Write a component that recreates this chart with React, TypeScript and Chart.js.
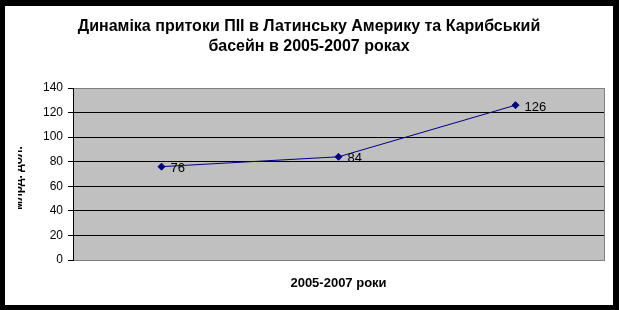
import React, { useEffect, useRef } from "react";
import { Chart, registerables } from "chart.js";

Chart.register(...registerables);

const categories = ["2005", "2006", "2007"];
const values = [76, 84, 126];
const titleLines = [
  "Динаміка притоки ПІІ в Латинську Америку та Карибський",
  "басейн в 2005-2007 роках",
];
const xTitle = "2005-2007 роки";
const yTitle = "млрд. дол.";
const yMin = 0;
const yMax = 140;
const yStep = 20;

const FONT = '"Liberation Sans", Arial, sans-serif';

const decor = {
  id: "decor",
  beforeDraw(chart: any) {
    const { ctx, chartArea: a } = chart;
    ctx.save();
    ctx.fillStyle = "#C0C0C0";
    ctx.fillRect(a.left, a.top, a.right - a.left, a.bottom - a.top);
    ctx.restore();
  },
  beforeDatasetsDraw(chart: any) {
    const { ctx, chartArea: a } = chart;
    ctx.save();
    ctx.strokeStyle = "#808080";
    ctx.lineWidth = 1;
    ctx.beginPath();
    ctx.moveTo(Math.round(a.right) + 0.5, Math.round(a.top));
    ctx.lineTo(Math.round(a.right) + 0.5, Math.round(a.bottom) + 1);
    ctx.stroke();
    ctx.restore();
  },
  afterDatasetsDraw(chart: any) {
    const { ctx } = chart;
    const meta = chart.getDatasetMeta(0);
    ctx.save();
    ctx.fillStyle = "#000000";
    ctx.font = `13px ${FONT}`;
    ctx.textAlign = "left";
    ctx.textBaseline = "middle";
    meta.data.forEach((pt: any, i: number) => {
      ctx.fillText(String(values[i]), pt.x + 9, pt.y + 2);
    });
    ctx.restore();
  },
  afterDraw(chart: any) {
    const { ctx, chartArea: a, width } = chart;
    ctx.save();
    ctx.fillStyle = "#000000";
    ctx.textAlign = "center";
    ctx.textBaseline = "middle";
    ctx.font = `bold 16px ${FONT}`;
    titleLines.forEach((line, i) => {
      ctx.fillText(line, width / 2, 21 + i * 20);
    });
    ctx.font = `bold 13px ${FONT}`;
    ctx.fillText(xTitle, (a.left + a.right) / 2, 277);
    ctx.restore();

    ctx.save();
    ctx.beginPath();
    ctx.rect(13, 0, 40, chart.height);
    ctx.clip();
    ctx.translate(17, (a.top + a.bottom) / 2 + 4);
    ctx.rotate(-Math.PI / 2);
    ctx.font = `bold 12px ${FONT}`;
    ctx.fillStyle = "#000000";
    ctx.textAlign = "center";
    ctx.textBaseline = "alphabetic";
    ctx.fillText(yTitle, 0, 0);
    ctx.restore();
  },
};

export default function App() {
  const ref = useRef<HTMLCanvasElement | null>(null);
  useEffect(() => {
    if (!ref.current) return;
    const chart = new Chart(ref.current, {
      type: "line",
      data: {
        labels: categories,
        datasets: [
          {
            data: values,
            borderColor: "#000080",
            backgroundColor: "#000080",
            borderWidth: 1,
            pointStyle: "rectRot",
            pointRadius: 3.5,
            pointBackgroundColor: "#000080",
            pointBorderColor: "#000080",
            tension: 0,
          },
        ],
      },
      options: {
        responsive: false,
        animation: false,
        devicePixelRatio: 1,
        layout: { padding: { top: 82, right: 9, bottom: 0, left: 0 } },
        plugins: {
          legend: { display: false },
          title: { display: false },
          tooltip: { enabled: false },
        },
        scales: {
          x: {
            type: "category",
            offset: true,
            grid: { display: false, drawTicks: false },
            ticks: { display: false },
            border: { display: true, color: "#808080", width: 1 },
            afterFit: (s: any) => {
              s.height = 45;
            },
          },
          y: {
            min: yMin,
            max: yMax,
            ticks: {
              stepSize: yStep,
              color: "#000000",
              padding: 5,
              font: { family: FONT, size: 12 },
            },
            grid: {
              color: (c: any) =>
                c.tick && (c.tick.value === yMin || c.tick.value === yMax)
                  ? "#808080"
                  : "#000000",
              tickColor: "#000000",
              tickLength: 5,
              lineWidth: 1,
            },
            border: { display: true, color: "#000000", width: 1 },
            afterFit: (s: any) => {
              s.width = 68;
            },
          },
        },
      },
      plugins: [decor],
    });
    return () => chart.destroy();
  }, []);

  return (
    <div
      style={{
        position: "absolute",
        left: 0,
        top: 0,
        width: 619,
        height: 310,
        background: "#000000",
      }}
    >
      <canvas
        ref={ref}
        width={608}
        height={299}
        style={{
          position: "absolute",
          left: 5,
          top: 6,
          width: 608,
          height: 299,
          background: "#ffffff",
        }}
      />
    </div>
  );
}
